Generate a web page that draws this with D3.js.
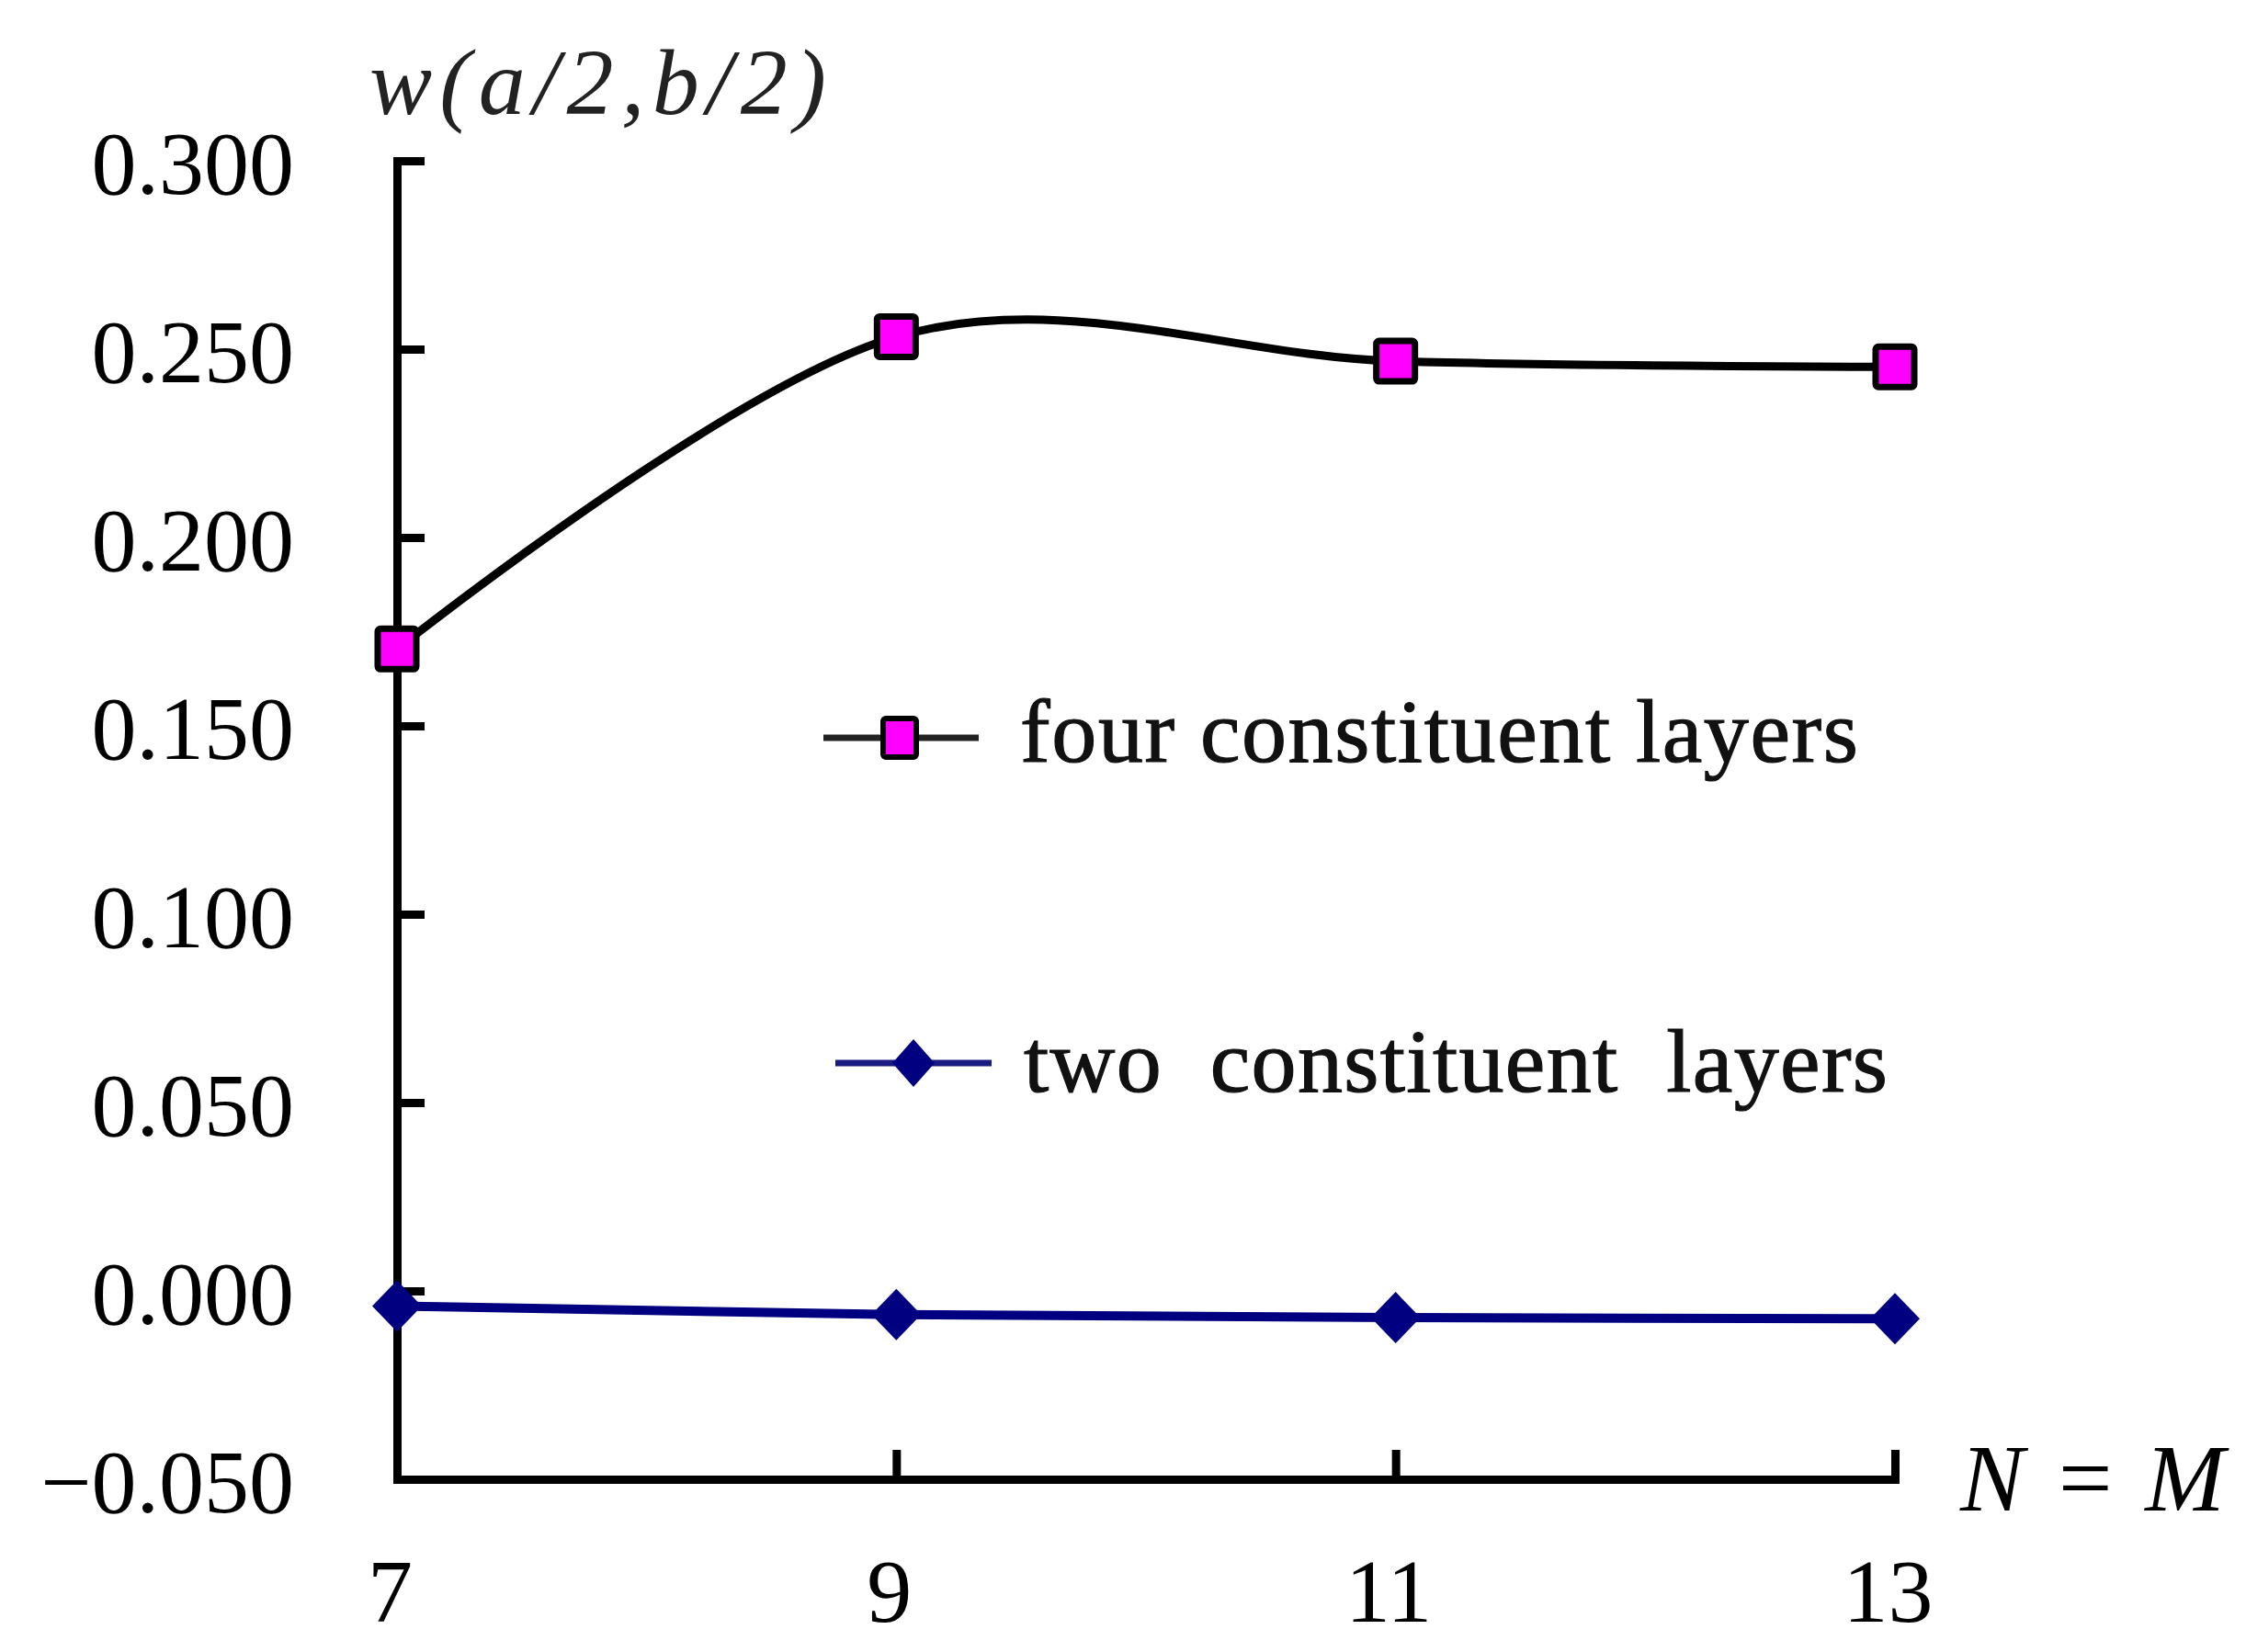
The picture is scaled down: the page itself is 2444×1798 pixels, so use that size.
<!DOCTYPE html>
<html>
<head>
<meta charset="utf-8">
<script src="https://cdn.jsdelivr.net/npm/d3@7"></script>
<style>
  body { margin: 0; background: #fff; }
  svg text { font-family: "Liberation Serif", "Times New Roman", serif; }
</style>
</head>
<body>
<div class="visualizations"></div>
<script>
// data
var nValues = [7, 9, 11, 13];
var fourLayers = [0.1704, 0.2533, 0.2468, 0.2453];
var twoLayers = [-0.0040, -0.0063, -0.0071, -0.0074];
var yTicks = [-0.05, 0, 0.05, 0.1, 0.15, 0.2, 0.25, 0.3];
var seriesNames = ["four constituent layers", "two  constituent  layers"];

var width = 2444, height = 1798;
var svg = d3.select(".visualizations").append("svg")
  .attr("width", width).attr("height", height);

var x = d3.scaleLinear().domain([7, 13]).range([432, 2062]);
var y = d3.scaleLinear().domain([-0.05, 0.3]).range([1610, 175]);

// y axis, ticks pointing inward
var yAxis = svg.append("g").attr("transform", "translate(" + x(7) + ",0)")
  .call(d3.axisLeft(y).tickValues(yTicks).tickFormat(d3.format(".3f"))
    .tickSizeInner(-30).tickSizeOuter(0).tickPadding(112));
yAxis.selectAll("path, line").style("stroke", "#000").style("stroke-width", 9);
yAxis.select(".domain").style("stroke-linecap", "square");
yAxis.selectAll("text").style("font-size", "98px").style("fill", "#000").attr("dy", "0.36em");

// x axis
var xAxis = svg.append("g").attr("transform", "translate(0," + y(-0.05) + ")")
  .call(d3.axisBottom(x).tickValues(nValues).tickFormat(d3.format("d"))
    .tickSizeInner(-32).tickSizeOuter(0).tickPadding(85));
xAxis.selectAll("path, line").style("stroke", "#000").style("stroke-width", 9);
xAxis.select(".domain").style("stroke-linecap", "square");
xAxis.selectAll("text").style("font-size", "98px").style("fill", "#000").attr("dx", "-8");

// axis titles
svg.append("text").attr("x", 402).attr("y", 124)
  .attr("textLength", 497).attr("lengthAdjust", "spacing")
  .style("font-size", "102px").style("font-style", "italic").style("fill", "#222")
  .text("w(a/2,b/2)");
svg.append("text").attr("x", 2133).attr("y", 1644)
  .attr("textLength", 288).attr("lengthAdjust", "spacing")
  .style("font-size", "104px").style("font-style", "italic").style("fill", "#000")
  .text("N = M");

// series
var smooth = d3.line().x(function(d, i) { return x(nValues[i]); })
  .y(function(d) { return y(d); }).curve(d3.curveCardinal.tension(0));
var straight = d3.line().x(function(d, i) { return x(nValues[i]); })
  .y(function(d) { return y(d); });

svg.append("path").attr("d", straight(twoLayers))
  .style("fill", "none").style("stroke", "#000080").style("stroke-width", 10);
svg.append("path").attr("d", smooth(fourLayers))
  .style("fill", "none").style("stroke", "#000").style("stroke-width", 9);

var diamond = function(cx, cy, w, h) {
  return [[cx, cy - h / 2], [cx + w / 2, cy], [cx, cy + h / 2], [cx - w / 2, cy]].join(" ");
};

svg.selectAll(".dia").data(twoLayers).enter().append("polygon").attr("class", "dia")
  .attr("points", function(d, i) { return diamond(x(nValues[i]), y(d), 54, 56); })
  .style("fill", "#000080");

svg.selectAll(".sq").data(fourLayers).enter().append("rect").attr("class", "sq")
  .attr("x", function(d, i) { return x(nValues[i]) - 21; })
  .attr("y", function(d) { return y(d) - 22; })
  .attr("width", 42).attr("height", 44).attr("rx", 3)
  .style("fill", "#ff00ff").style("stroke", "#000").style("stroke-width", 7);

// legend
svg.append("line").attr("x1", 896).attr("y1", 803).attr("x2", 1065).attr("y2", 803)
  .style("stroke", "#222").style("stroke-width", 7);
svg.append("rect").attr("x", 961).attr("y", 782).attr("width", 36).attr("height", 42).attr("rx", 3)
  .style("fill", "#ff00ff").style("stroke", "#000").style("stroke-width", 6);
svg.append("text").attr("x", 1110).attr("y", 829)
  .attr("textLength", 912).attr("lengthAdjust", "spacing")
  .style("font-size", "98px").style("fill", "#111").style("stroke", "#111").style("stroke-width", 1.2)
  .text(seriesNames[0]);

svg.append("line").attr("x1", 909).attr("y1", 1157).attr("x2", 1079).attr("y2", 1157)
  .style("stroke", "#1a1a80").style("stroke-width", 7);
svg.append("polygon").attr("points", diamond(994, 1157, 46, 52)).style("fill", "#000080");
svg.append("text").attr("x", 1114).attr("y", 1188)
  .attr("textLength", 940).attr("lengthAdjust", "spacing")
  .style("font-size", "98px").style("fill", "#111").style("stroke", "#111").style("stroke-width", 1.2)
  .style("white-space", "pre").text(seriesNames[1]);
</script>
</body>
</html>
